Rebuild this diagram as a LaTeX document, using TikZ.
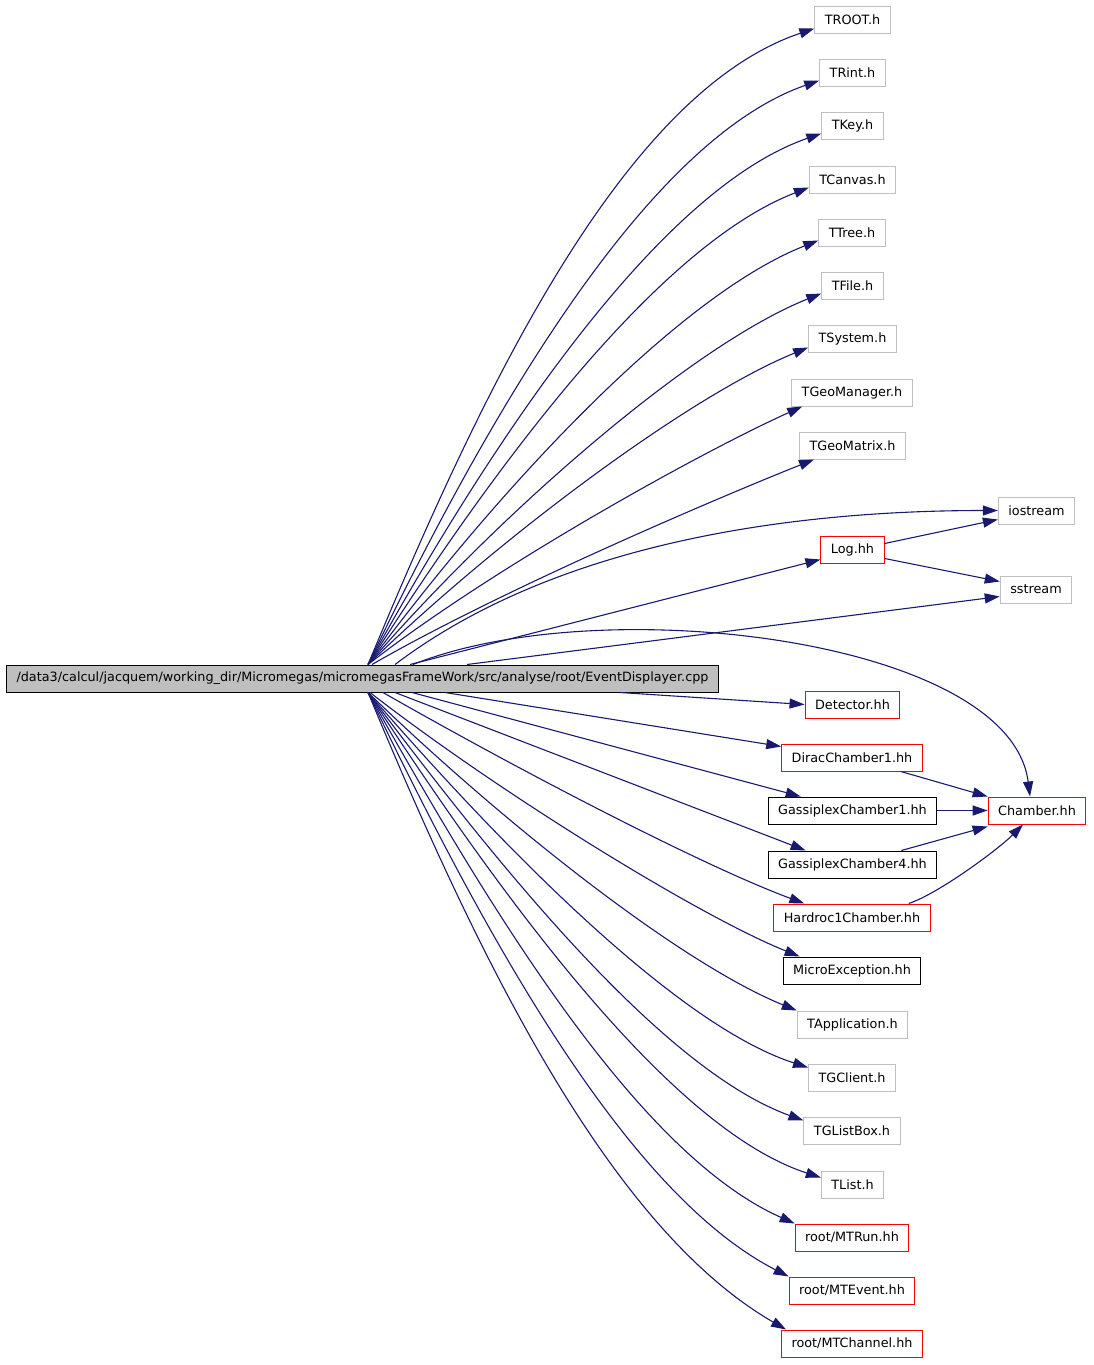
\documentclass[tikz,border=0pt]{standalone}
\usepackage{fontspec}
\setmainfont{DejaVu Sans}
\usetikzlibrary{arrows.meta}
\definecolor{edgeblue}{HTML}{191970}
\definecolor{boxgray}{HTML}{BFBFBF}
\begin{document}
\begin{tikzpicture}[x=1pt,y=-1pt]
    \tikzstyle{hdr}=[draw=boxgray, line width=1pt, minimum height=27pt, inner xsep=10pt, inner ysep=0pt, font=\fontsize{12.8}{15}\selectfont]
    \tikzstyle{hdrred}=[hdr, draw=red]
    \tikzstyle{hdrblack}=[hdr, draw=black]
    \tikzstyle{dep}=[edgeblue, line width=1.1pt, -{Triangle[length=15pt,width=10pt]}]
    \useasboundingbox (0,0) rectangle (1093,1365);
    \node[hdr, fill=boxgray, draw=black] (main) at (362.5,678.5) {/data3/calcul/jacquem/working\_dir/Micromegas/micromegasFrameWork/src/analyse/root/EventDisplayer.cpp};
    \node[hdr] (troot) at (852.5,19.5) {TROOT.h};
    \node[hdr] (trint) at (852.5,72.5) {TRint.h};
    \node[hdr] (tkey) at (852.5,125.5) {TKey.h};
    \node[hdr] (tcanvas) at (852.5,179.5) {TCanvas.h};
    \node[hdr] (ttree) at (852,232.5) {TTree.h};
    \node[hdr] (tfile) at (852.5,285.5) {TFile.h};
    \node[hdr] (tsystem) at (852.5,338.5) {TSystem.h};
    \node[hdr] (tgeomanager) at (852,392.5) {TGeoManager.h};
    \node[hdr] (tgeomatrix) at (852.5,445.5) {TGeoMatrix.h};
    \node[hdr] (iostream) at (1036.5,510.5) {iostream};
    \node[hdrred] (logh) at (852.5,549.5) {Log.hh};
    \node[hdr] (sstream) at (1036,589.5) {sstream};
    \node[hdrred] (detector) at (852.5,704.5) {Detector.hh};
    \node[hdrred] (dirac) at (852,757.5) {DiracChamber1.hh};
    \node[hdrred] (chamber) at (1037,810.5) {Chamber.hh};
    \node[hdrblack] (gassiplex1) at (852.5,810.5) {GassiplexChamber1.hh};
    \node[hdrblack] (gassiplex4) at (852.5,864.5) {GassiplexChamber4.hh};
    \node[hdrred] (hardroc) at (852,917.5) {Hardroc1Chamber.hh};
    \node[hdrblack] (microex) at (852,970.5) {MicroException.hh};
    \node[hdr] (tapplication) at (852.5,1024.5) {TApplication.h};
    \node[hdr] (tgclient) at (852,1077.5) {TGClient.h};
    \node[hdr] (tglistbox) at (852,1130.5) {TGListBox.h};
    \node[hdr] (tlist) at (852.5,1184.5) {TList.h};
    \node[hdrred] (mtrun) at (852,1237.5) {root/MTRun.hh};
    \node[hdrred] (mtevent) at (852,1290.5) {root/MTEvent.hh};
    \node[hdrred] (mtchannel) at (852,1343.5) {root/MTChannel.hh};
    % upper fan
    \draw[dep] ([xshift=362pt]main.north west) .. controls +(116,-280) and +(-190,64) .. ([yshift=5pt]troot.south west);
    \draw[dep] ([xshift=362pt]main.north west) .. controls +(122,-254) and +(-172,60) .. ([yshift=6pt]trint.south west);
    \draw[dep] ([xshift=362pt]main.north west) .. controls +(126,-228) and +(-162,56) .. ([yshift=6pt]tkey.south west);
    \draw[dep] ([xshift=362pt]main.north west) .. controls +(129,-203) and +(-150,58) .. ([yshift=6pt]tcanvas.south west);
    \draw[dep] ([xshift=362pt]main.north west) .. controls +(131,-177) and +(-140,55) .. ([yshift=6pt]ttree.south west);
    \draw[dep] ([xshift=362pt]main.north west) .. controls +(131,-151) and +(-130,52) .. ([yshift=6pt]tfile.south west);
    \draw[dep] ([xshift=362pt]main.north west) .. controls +(129,-125) and +(-120,49) .. ([yshift=5pt]tsystem.south west);
    \draw[dep] ([xshift=362pt]main.north west) .. controls +(126,-98) and +(-100,45) .. ([xshift=11pt]tgeomanager.south west);
    \draw[dep] ([xshift=366pt]main.north west) .. controls +(130,-75) and +(-93,37) .. ([xshift=15pt]tgeomatrix.south west);
    \draw[dep] ([xshift=389pt]main.north west) .. controls +(165,-125) and +(-197,0) .. (iostream.west);
    \draw[dep] ([xshift=404pt]main.north west) -- ([yshift=4pt]logh.south west);
    \draw[dep] ([xshift=461pt]main.north west) -- ([yshift=7pt]sstream.south west);
    \draw[dep] ([xshift=407pt]main.north west) .. controls +(187,-75) and +(-20,-158) .. ([xshift=-7pt]chamber.north);
    \draw[dep] ([yshift=-8pt]logh.north east) -- ([yshift=5pt]iostream.south west);
    \draw[dep] ([yshift=5pt]logh.south east) -- ([yshift=-6pt]sstream.north west);
    % lower fan
    \draw[dep] ([xshift=614pt]main.south west) -- (detector.west);
    \draw[dep] ([xshift=439pt]main.south west) -- ([yshift=-3pt]dirac.north west);
    \draw[dep] ([xshift=406pt]main.south west) -- ([xshift=33pt]gassiplex1.north west);
    \draw[dep] ([xshift=389pt]main.south west) -- ([xshift=38pt]gassiplex4.north west);
    \draw[dep] ([xshift=377pt]main.south west) .. controls +(140,80) and +(-100,-37) .. ([xshift=31pt]hardroc.north west);
    \draw[dep] ([xshift=364pt]main.south west) .. controls +(126,98) and +(-102,-41) .. ([xshift=17pt]microex.north west);
    \draw[dep] ([xshift=362pt]main.south west) .. controls +(129,125) and +(-120,-49) .. (tapplication.north west);
    \draw[dep] ([xshift=362pt]main.south west) .. controls +(131,151) and +(-133,-43) .. ([yshift=-4pt]tgclient.north west);
    \draw[dep] ([xshift=362pt]main.south west) .. controls +(132,176) and +(-141,-51) .. ([yshift=-4pt]tglistbox.north west);
    \draw[dep] ([xshift=362pt]main.south west) .. controls +(131,201) and +(-152,-49) .. ([yshift=-7pt]tlist.north west);
    \draw[dep] ([xshift=362pt]main.south west) .. controls +(128,228) and +(-155,-69) .. (mtrun.north west);
    \draw[dep] ([xshift=362pt]main.south west) .. controls +(122,254) and +(-160,-82) .. (mtevent.north west);
    \draw[dep] ([xshift=362pt]main.south west) .. controls +(116,280) and +(-173,-100) .. ([xshift=5pt]mtchannel.north west);
    % into Chamber.hh
    \draw[dep] ([xshift=-22pt]dirac.south east) -- (chamber.north west);
    \draw[dep] (gassiplex1.east) -- (chamber.west);
    \draw[dep] ([xshift=-36pt]gassiplex4.north east) -- ([yshift=-2pt]chamber.south west);
    \draw[dep] ([xshift=-22pt]hardroc.north east) .. controls +(30,-10) and +(-25,25) .. ([xshift=-14pt]chamber.south);
\end{tikzpicture}
\end{document}
